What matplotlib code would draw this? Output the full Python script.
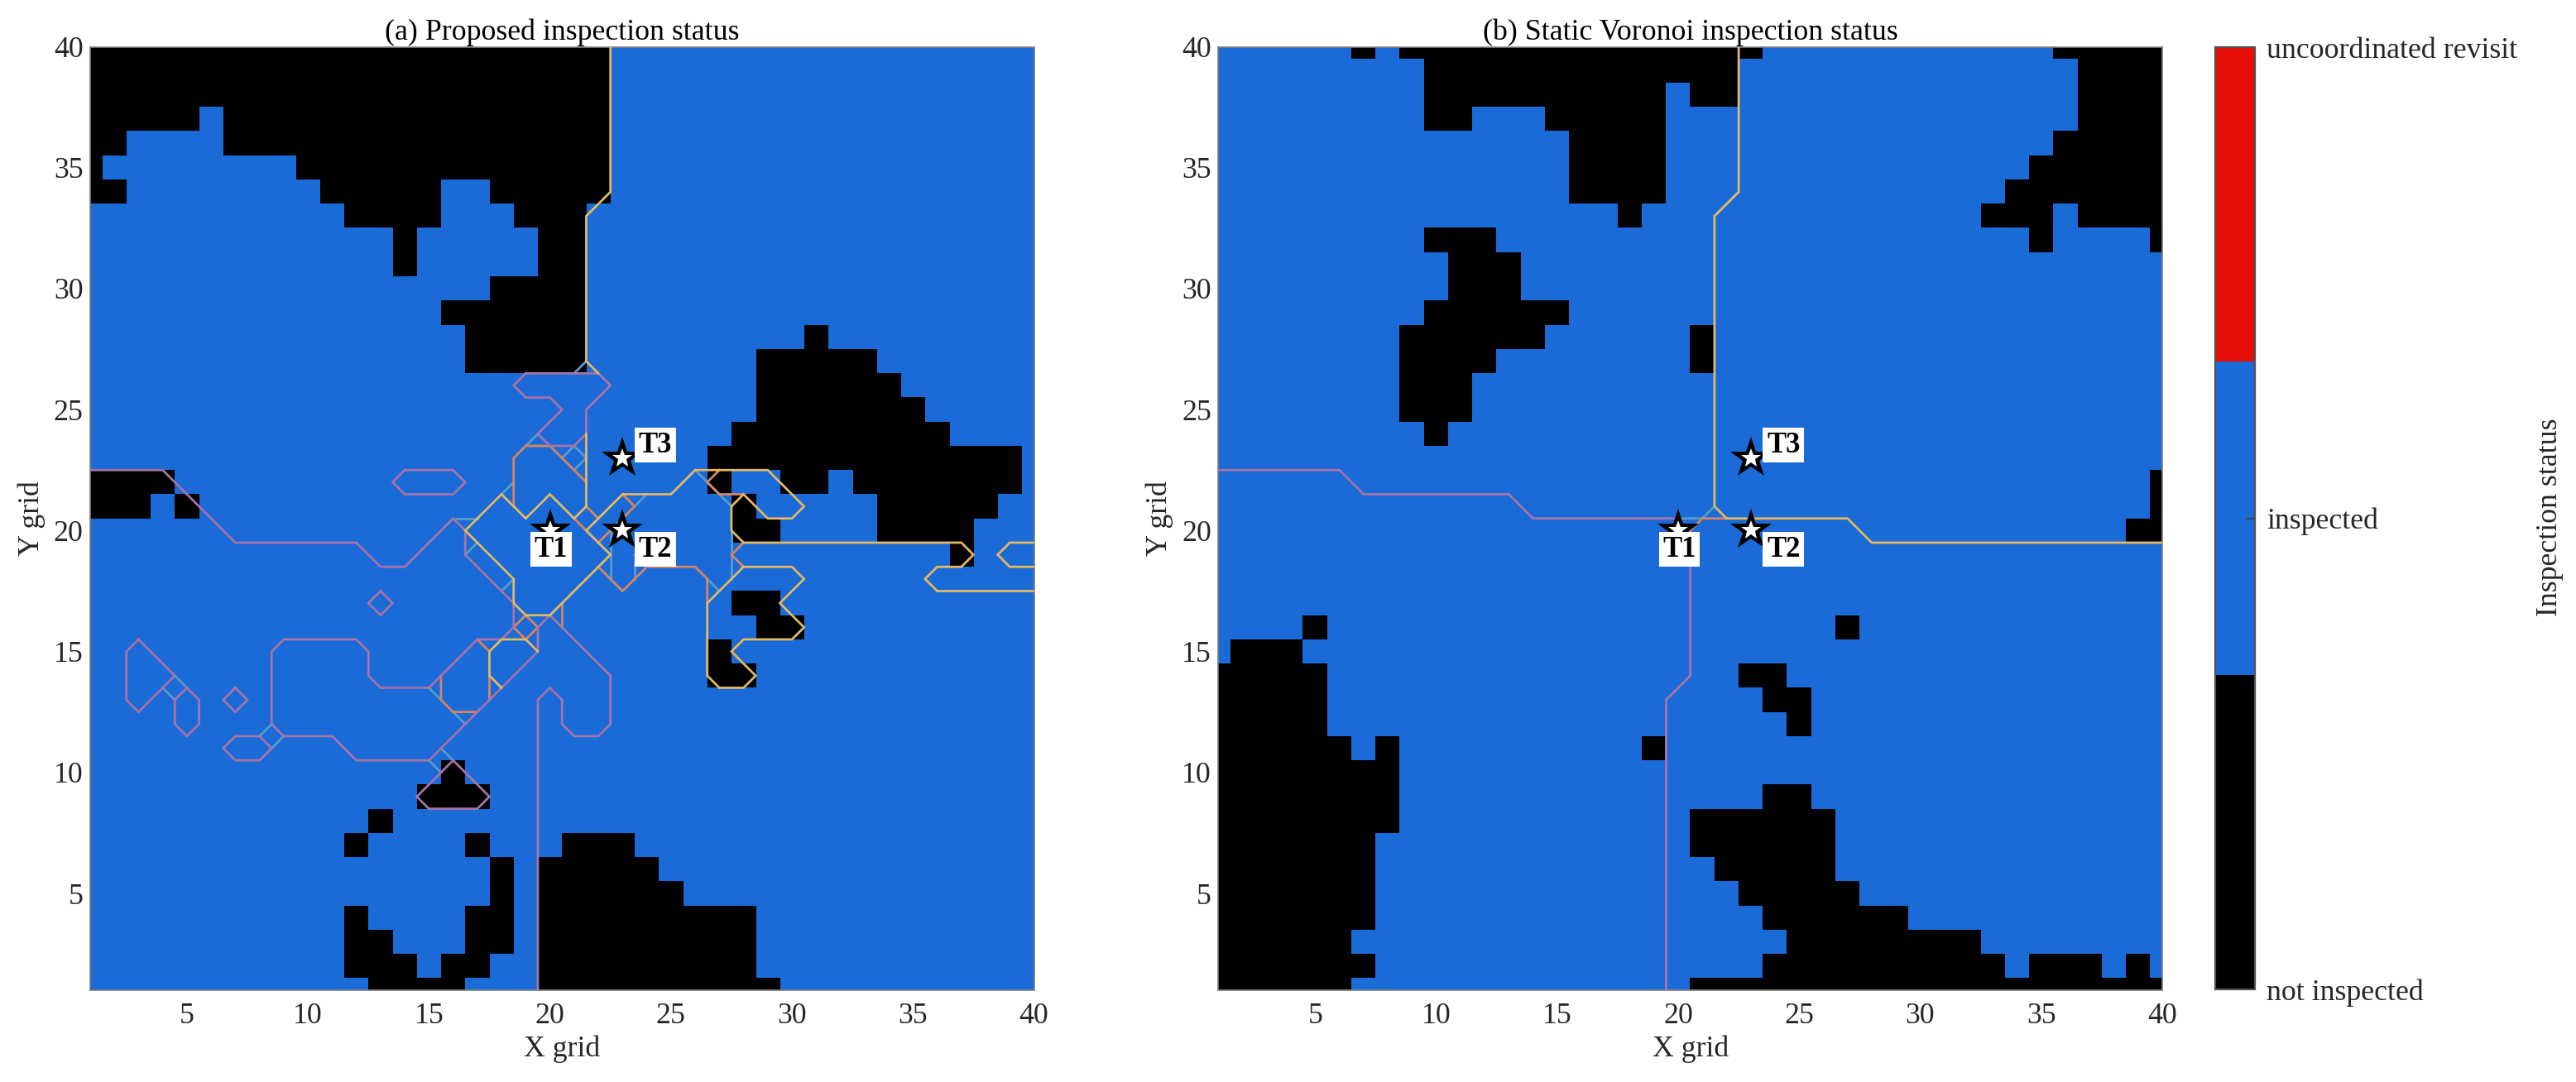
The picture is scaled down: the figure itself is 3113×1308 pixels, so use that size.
import matplotlib
matplotlib.use("Agg")
import matplotlib.pyplot as plt
from matplotlib.colors import ListedColormap, Normalize
from matplotlib.cm import ScalarMappable
import numpy as np

plt.rcParams['font.family'] = ['Liberation Serif', 'DejaVu Serif']
plt.rcParams['font.size'] = 12.9

W, H = 3113, 1308
GRID = 40
STATUS_COLORS = ['#000000', '#1a6ad8', '#e60f05']
STATUS_LABELS = ['not inspected', 'inspected', 'uncoordinated revisit']
LINE_COLORS = {'blue': '#5a9cc8', 'orange': '#d9855f', 'purple': '#a874a8', 'yellow': '#e3b962'}

ticks = [5, 10, 15, 20, 25, 30, 35, 40]
targets = {'T1': (20, 20), 'T2': (23, 20), 'T3': (23, 23)}

# not inspected cells, row y -> runs of x
a_black = {
    40: [(1, 22)], 39: [(1, 22)], 38: [(1, 22)],
    37: [(1, 5), (7, 22)],
    36: [(1, 2), (7, 22)],
    35: [(1, 1), (10, 22)],
    34: [(1, 2), (11, 15), (18, 22)],
    33: [(12, 15), (19, 21)],
    32: [(14, 14), (20, 21)],
    31: [(14, 14), (20, 21)],
    30: [(18, 21)],
    29: [(16, 21)],
    28: [(17, 21), (31, 31)],
    27: [(17, 21), (29, 33)],
    26: [(29, 34)],
    25: [(29, 35)],
    24: [(28, 36)],
    23: [(27, 39)],
    22: [(1, 4), (27, 27), (30, 31), (33, 39)],
    21: [(1, 3), (5, 5), (28, 28), (34, 38)],
    20: [(28, 29), (34, 37)],
    19: [(37, 37)],
    17: [(28, 29)],
    16: [(29, 30)],
    15: [(27, 27)],
    14: [(27, 28)],
    10: [(16, 16)],
    9: [(15, 17)],
    8: [(13, 13)],
    7: [(12, 12), (17, 17), (21, 23)],
    6: [(18, 18), (20, 24)],
    5: [(18, 18), (20, 25)],
    4: [(12, 12), (17, 18), (20, 28)],
    3: [(12, 13), (17, 18), (20, 28)],
    2: [(12, 14), (16, 17), (20, 28)],
    1: [(13, 16), (20, 29)],
}

b_black = {
    40: [(7, 7), (9, 23), (36, 40)],
    39: [(10, 22), (37, 40)],
    38: [(10, 19), (21, 22), (37, 40)],
    37: [(10, 11), (15, 19), (37, 40)],
    36: [(16, 19), (36, 40)],
    35: [(16, 19), (35, 40)],
    34: [(16, 19), (34, 40)],
    33: [(18, 18), (33, 35), (37, 40)],
    32: [(10, 12), (35, 35), (40, 40)],
    31: [(11, 13)],
    30: [(11, 13)],
    29: [(10, 15)],
    28: [(9, 14), (21, 21)],
    27: [(9, 12), (21, 21)],
    26: [(9, 11)],
    25: [(9, 11)],
    24: [(10, 10)],
    22: [(40, 40)],
    21: [(40, 40)],
    20: [(39, 40)],
    16: [(5, 5), (27, 27)],
    15: [(2, 4)],
    14: [(1, 5), (23, 24)],
    13: [(1, 5), (24, 25)],
    12: [(1, 5), (25, 25)],
    11: [(1, 6), (8, 8), (19, 19)],
    10: [(1, 8)],
    9: [(1, 8), (24, 25)],
    8: [(1, 8), (21, 26)],
    7: [(1, 7), (21, 26)],
    6: [(1, 7), (22, 26)],
    5: [(1, 7), (23, 27)],
    4: [(1, 7), (24, 29)],
    3: [(1, 6), (25, 32)],
    2: [(1, 7), (24, 33), (35, 37), (39, 39)],
    1: [(1, 6), (21, 40)],
}

a_yellow = [
    [(22.5, 40), (22.5, 34), (21.5, 33), (21.5, 27), (22, 26.5)],
    [(21.5, 24), (21.5, 21), (21, 20.5), (20, 21.5), (19, 20.5), (18, 21.5), (16.5, 20), (18.5, 18),
     (18.5, 17), (19, 16.5), (20, 16.5), (22.5, 19), (21.5, 20), (23, 21.5), (25, 21.5), (26, 22.5),
     (29, 22.5), (30.5, 21), (30, 20.5), (29, 20.5), (28, 21.5), (27.5, 21), (27.5, 20), (28, 19.5),
     (37, 19.5), (37.5, 19), (37, 18.5), (36, 18.5), (35.5, 18), (36, 17.5), (40, 17.5)],
    [(40, 19.5), (39, 19.5), (38.5, 19), (39, 18.5), (40, 18.5)],
    [(28, 18.5), (30, 18.5), (30.5, 18), (29.5, 17), (30.5, 16), (30, 15.5), (28, 15.5), (27.5, 15),
     (28.5, 14), (28, 13.5), (27, 13.5), (26.5, 14), (26.5, 17), (28, 18.5)],
    [(19.5, 15), (19, 15.5), (18, 15.5), (17.5, 15), (17.5, 14), (18, 13.5)],
]
a_orange = [
    [(18.5, 21), (18.5, 23), (19, 23.5), (20, 23.5), (21.5, 22)],
    [(21.5, 21), (22, 20.5)],
    [(21, 20.5), (21.5, 20)],
    [(23, 21.5), (23.5, 21), (22, 19.5)],
    [(22, 18.5), (23, 17.5), (24, 18.5), (26, 18.5), (26.5, 18), (26.5, 17)],
    [(27, 22.5), (26.5, 22), (27, 21.5), (28, 21.5)],
    [(28, 19.5), (27.5, 19), (28, 18.5)],
    [(20.5, 17), (20.5, 16)],
    [(18.5, 16), (19, 16.5), (19.5, 16), (19, 15.5), (18.5, 16)],
    [(17, 15.5), (17.5, 15)],
    [(17.5, 14), (17.5, 13)],
    [(15.5, 14), (15.5, 13), (16, 12.5), (17, 12.5)],
]
a_blue = [
    [(21.5, 27), (21, 26.5)],
    [(19.5, 24), (19, 23.5)],
    [(20.5, 23), (21, 23.5), (21.5, 23), (21, 22.5)],
    [(18.5, 22), (18, 21.5)],
    [(16, 20.5), (17, 20.5)],
    [(17, 19.5), (16.5, 19)],
    [(18.5, 18), (18, 17.5)],
    [(22.5, 20), (22.5, 18)],
    [(23.5, 19), (23.5, 18)],
    [(23.5, 21), (24, 21.5)],
    [(26, 22.5), (27.5, 21)],
    [(27.5, 20), (27.5, 18)],
    [(26.5, 18), (27, 17.5)],
    [(15, 13.5), (15.5, 13)],
    [(16, 12.5), (16.5, 12)],
    [(24.5, 19), (25, 18.5)],
    [(4.5, 14), (5, 13.5)],
    [(4, 13.5), (4.5, 13)],
    [(8, 11.5), (8.5, 12)],
    [(8.5, 11), (9, 11.5)],
    [(15, 10.5), (15.5, 10)],
    [(15.5, 11), (16, 10.5)],
]
a_purple = [
    [(1, 22.5), (4, 22.5), (7, 19.5), (12, 19.5), (13, 18.5), (14, 18.5), (16, 20.5), (16.5, 20), (16.5, 19),
     (18.5, 17), (18.5, 16), (18, 15.5), (17, 15.5), (15, 13.5), (13, 13.5), (12.5, 14), (12.5, 15), (12, 15.5),
     (9, 15.5), (8.5, 15), (8.5, 12), (9, 11.5), (11, 11.5), (12, 10.5), (15, 10.5), (19.5, 15), (19.5, 16),
     (20, 16.5), (22.5, 14), (22.5, 12), (22, 11.5), (21, 11.5), (20.5, 12), (20.5, 13), (20, 13.5), (19.5, 13),
     (19.5, 1)],
    [(14, 22.5), (16, 22.5), (16.5, 22), (16, 21.5), (14, 21.5), (13.5, 22), (14, 22.5)],
    [(19, 26.5), (18.5, 26), (19, 25.5), (20, 25.5), (20.5, 25), (19.5, 24), (20, 23.5), (21, 23.5), (21.5, 24),
     (21.5, 25), (22.5, 26), (22, 26.5), (19, 26.5)],
    [(24, 18.5), (23.5, 19), (24, 19.5)],
    [(13, 17.5), (13.5, 17), (13, 16.5), (12.5, 17), (13, 17.5)],
    [(3, 15.5), (2.5, 15), (2.5, 13), (3, 12.5), (4.5, 14), (3, 15.5)],
    [(5, 13.5), (4.5, 13), (4.5, 12), (5, 11.5), (5.5, 12), (5.5, 13), (5, 13.5)],
    [(7, 13.5), (7.5, 13), (7, 12.5), (6.5, 13), (7, 13.5)],
    [(8, 11.5), (7, 11.5), (6.5, 11), (7, 10.5), (8, 10.5), (8.5, 11), (8, 11.5)],
    [(14.5, 9), (16, 10.5), (17.5, 9), (17, 8.5), (15, 8.5), (14.5, 9)],
]

b_yellow = [[(22.5, 40), (22.5, 34), (21.5, 33), (21.5, 21), (22, 20.5), (27, 20.5), (28, 19.5), (40, 19.5)]]
b_orange = [[(22, 20.5), (21, 20.5), (20.5, 20), (20.5, 19)]]
b_blue = [[(21.5, 21), (21, 20.5), (20, 20.5)]]
b_purple = [
    [(1, 22.5), (6, 22.5), (7, 21.5), (13, 21.5), (14, 20.5), (20, 20.5)],
    [(20.5, 19), (20.5, 14), (19.5, 13), (19.5, 1)],
]


def build_grid(black_rows):
    grid = np.ones((GRID, GRID))
    for y, runs in black_rows.items():
        for x0, x1 in runs:
            grid[y - 1, x0 - 1:x1] = 0
    return grid


def draw_panel(ax, black_rows, lines, title):
    ax.imshow(build_grid(black_rows), origin='lower', extent=(0.5, 40.5, 0.5, 40.5), cmap=cmap, norm=norm,
              interpolation='nearest', aspect='auto')
    for name in ['blue', 'orange', 'purple', 'yellow']:
        for path in lines[name]:
            xs, ys = zip(*path)
            ax.plot(xs, ys, color=LINE_COLORS[name], lw=1.0, solid_joinstyle='miter', zorder=3)
    for name, (tx, ty) in targets.items():
        ax.plot(tx, ty, marker='*', ms=19, color='k', mew=0, zorder=5)
        ax.plot(tx, ty, marker='*', ms=9, color='w', mew=0, zorder=6)
    label_pos = {'T1': (20.05, 19.22), 'T2': (24.35, 19.22), 'T3': (24.35, 23.52)}
    for name, (lx, ly) in label_pos.items():
        ax.text(lx, ly, name, fontsize=12.5, fontweight='bold', ha='center', va='center', zorder=7,
                bbox=dict(facecolor='w', edgecolor='none', pad=1.6))
    ax.set_xlim(1, 40)
    ax.set_ylim(1, 40)
    ax.set_xticks(ticks)
    ax.set_yticks(ticks)
    ax.tick_params(length=0, labelsize=12.9, labelcolor='#262626')
    ax.tick_params(axis='x', pad=5.5)
    ax.tick_params(axis='y', pad=3)
    ax.set_xlabel('X grid', fontsize=12.9, color='#262626', labelpad=2.2)
    ax.set_ylabel('Y grid', fontsize=12.9, color='#262626', labelpad=3.5)
    ax.set_title(title, fontsize=12.9, pad=3)
    for s in ax.spines.values():
        s.set_color('#808080')
        s.set_linewidth(0.6)


cmap = ListedColormap(STATUS_COLORS)
norm = Normalize(0, 2)

fig = plt.figure(figsize=(W / 200, H / 200), dpi=200)


def axes_px(left, top, right, bottom):
    return fig.add_axes([left / W, 1 - bottom / H, (right - left) / W, (bottom - top) / H])


ax_a = axes_px(108.9, 56.5, 1249.5, 1197)
ax_b = axes_px(1472.4, 56.5, 2612.9, 1197)
cax = axes_px(2677, 57, 2725, 1196)

draw_panel(ax_a, a_black, {'yellow': a_yellow, 'orange': a_orange, 'blue': a_blue, 'purple': a_purple},
           '(a) Proposed inspection status')
draw_panel(ax_b, b_black, {'yellow': b_yellow, 'orange': b_orange, 'blue': b_blue, 'purple': b_purple},
           '(b) Static Voronoi inspection status')

cb = fig.colorbar(ScalarMappable(norm=norm, cmap=cmap), cax=cax, ticks=[0, 1, 2])
cb.ax.set_yticklabels(STATUS_LABELS)
cb.ax.tick_params(direction='in', length=4, width=0.6, color='#404040', labelsize=12.9, labelcolor='#262626', pad=5)
cb.outline.set_edgecolor('#505050')
cb.outline.set_linewidth(0.8)
fig.text(3082 / W, 1 - 625 / H, 'Inspection status', rotation=90, ha='center', va='center',
         fontsize=12.9, color='#262626')

fig.savefig('out.png', dpi=200)
